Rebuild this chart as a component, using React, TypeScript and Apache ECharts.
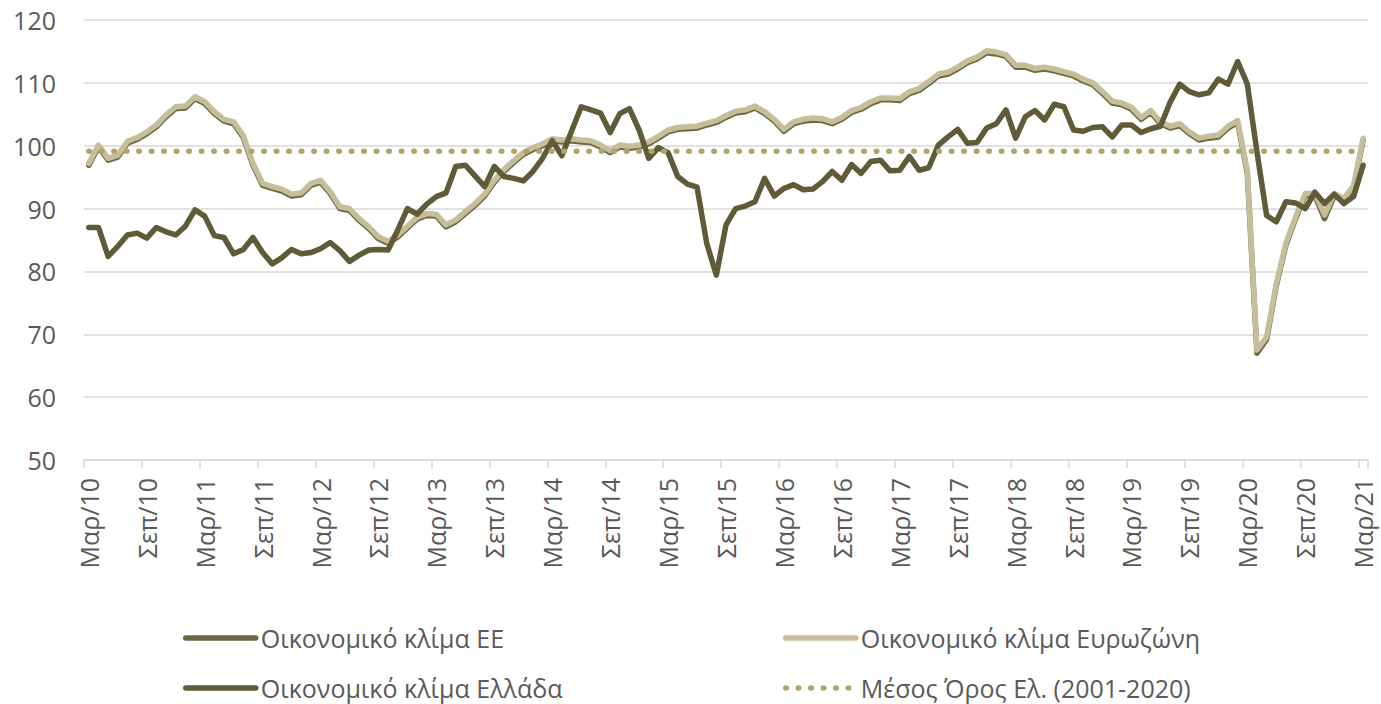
import React, { useEffect, useRef } from 'react';
import * as echarts from 'echarts';

const monthNames = ['Ιαν', 'Φεβ', 'Μαρ', 'Απρ', 'Μαϊ', 'Ιουν', 'Ιουλ', 'Αυγ', 'Σεπ', 'Οκτ', 'Νοε', 'Δεκ'];
const startMonthIndex = 2; // Μαρ
const startYear = 2010;
const monthCount = 133; // Μαρ/10 .. Μαρ/21
const categories: string[] = Array.from({ length: monthCount }, (_, i) => {
  const m = (startMonthIndex + i) % 12;
  const y = startYear + Math.floor((startMonthIndex + i) / 12);
  return `${monthNames[m]}/${String(y).slice(2)}`;
});

const euClimate = [
  96.9, 99.8, 97.7, 98.2, 100.4, 101.0, 101.9, 103.0, 104.6, 105.9, 106.0, 107.5,
  106.7, 105.1, 103.9, 103.5, 101.3, 96.9, 93.7, 93.2, 92.8, 92.0, 92.2, 93.7,
  94.2, 92.4, 90.0, 89.7, 88.1, 86.8, 85.2, 84.5, 85.5, 86.9, 88.3, 88.9,
  88.8, 87.1, 87.9, 89.2, 90.5, 92.0, 94.2, 95.9, 97.3, 98.6, 99.4, 100.0,
  100.8, 100.6, 100.8, 100.6, 100.5, 99.8, 98.9, 99.8, 99.6, 99.8, 100.3, 101.2,
  102.2, 102.6, 102.7, 102.8, 103.3, 103.7, 104.5, 105.2, 105.4, 106.0, 105.1, 103.9,
  102.3, 103.5, 103.9, 104.1, 104.0, 103.5, 104.2, 105.3, 105.8, 106.7, 107.3, 107.3,
  107.2, 108.3, 108.8, 109.9, 111.1, 111.4, 112.2, 113.2, 113.8, 114.8, 114.6, 114.2,
  112.5, 112.5, 112.0, 112.2, 111.9, 111.5, 111.1, 110.3, 109.7, 108.3, 106.8, 106.5,
  105.8, 104.2, 105.3, 103.5, 102.8, 103.2, 101.9, 100.9, 101.2, 101.4, 102.8, 103.7,
  95.6, 67.0, 69.2, 77.7, 84.2, 88.4, 92.1, 92.0, 88.4, 92.0, 91.3, 93.3,
  100.9,
];

const eurozoneClimate = [
  97.2, 100.1, 98.0, 98.5, 100.7, 101.3, 102.2, 103.3, 104.9, 106.2, 106.3, 107.8,
  107.0, 105.4, 104.2, 103.8, 101.6, 97.2, 94.0, 93.5, 93.1, 92.3, 92.5, 94.0,
  94.5, 92.7, 90.3, 90.0, 88.4, 87.1, 85.5, 84.8, 85.8, 87.2, 88.6, 89.2,
  89.1, 87.4, 88.2, 89.5, 90.8, 92.3, 94.5, 96.2, 97.6, 98.9, 99.7, 100.3,
  101.1, 100.9, 101.1, 100.9, 100.8, 100.1, 99.2, 100.1, 99.9, 100.1, 100.6, 101.5,
  102.5, 102.9, 103.0, 103.1, 103.6, 104.0, 104.8, 105.5, 105.7, 106.3, 105.4, 104.2,
  102.6, 103.8, 104.2, 104.4, 104.3, 103.8, 104.5, 105.6, 106.1, 107.0, 107.6, 107.6,
  107.5, 108.6, 109.1, 110.2, 111.4, 111.7, 112.5, 113.5, 114.1, 115.1, 114.9, 114.5,
  112.8, 112.8, 112.3, 112.5, 112.2, 111.8, 111.4, 110.6, 110.0, 108.6, 107.1, 106.8,
  106.1, 104.5, 105.6, 103.8, 103.1, 103.5, 102.2, 101.2, 101.5, 101.7, 103.1, 104.0,
  96.0, 67.5, 69.6, 78.0, 84.5, 88.7, 92.4, 92.4, 89.0, 92.4, 91.6, 93.6,
  101.2,
];

const greeceClimate = [
  87.0, 87.0, 82.4, 84.0, 85.8, 86.1, 85.3, 87.0, 86.3, 85.8, 87.2, 89.8,
  88.8, 85.7, 85.4, 82.8, 83.5, 85.4, 83.0, 81.2, 82.2, 83.5, 82.8, 83.0,
  83.6, 84.6, 83.3, 81.6, 82.6, 83.4, 83.5, 83.4, 86.6, 90.0, 89.1, 90.7,
  91.9, 92.5, 96.7, 96.9, 95.2, 93.5, 96.7, 95.1, 94.8, 94.4, 95.9, 98.0,
  100.8, 98.4, 102.3, 106.2, 105.7, 105.2, 102.1, 105.1, 105.9, 102.5, 98.0, 99.7,
  98.9, 95.1, 93.9, 93.4, 84.5, 79.4, 87.4, 90.0, 90.4, 91.1, 94.8, 92.0,
  93.2, 93.8, 93.0, 93.1, 94.3, 95.9, 94.5, 97.0, 95.6, 97.5, 97.7, 96.0,
  96.1, 98.3, 96.1, 96.5, 100.1, 101.4, 102.6, 100.4, 100.5, 102.8, 103.5, 105.7,
  101.2, 104.6, 105.6, 104.1, 106.6, 106.2, 102.5, 102.3, 102.9, 103.0, 101.4, 103.3,
  103.3, 102.1, 102.7, 103.1, 106.9, 109.8, 108.6, 108.1, 108.4, 110.6, 109.8, 113.4,
  109.8, 99.0, 88.9, 87.9, 91.1, 90.9, 90.0, 92.6, 90.8, 92.3, 90.8, 91.9,
  96.9,
];

const greekMean = 99.1; // Μέσος Όρος Ελ. (2001-2020)

const yTicks = { min: 50, max: 120, interval: 10 };

const names = {
  eu: 'Οικονομικό κλίμα ΕΕ',
  ez: 'Οικονομικό κλίμα Ευρωζώνη',
  gr: 'Οικονομικό κλίμα Ελλάδα',
  mean: 'Μέσος Όρος Ελ. (2001-2020)',
};

const FONT = "'Open Sans', sans-serif";
const TEXT = '#595959';
const GRID = '#d9d9d9';
const C_EU = '#6e6842';
const C_EZ = '#c6be9a';
const C_GR = '#5f5a37';
const C_MEAN = '#b0a468';
const LINE_W = 5.5;
const DOTS = [0.5, 12];

function legendAt(name: string, left: number, top: number, color: string, dotted = false) {
  return {
    data: [name],
    left,
    top,
    orient: 'horizontal',
    padding: 0,
    itemWidth: 70,
    itemHeight: 14,
    itemGap: 5,
    selectedMode: false,
    itemStyle: { opacity: 0 },
    lineStyle: {
      color,
      width: LINE_W,
      type: dotted ? DOTS : 'solid',
      cap: 'round',
    },
    textStyle: { fontFamily: FONT, fontSize: 25, color: TEXT, lineHeight: 30 },
  };
}

export default function App() {
  const ref = useRef<HTMLDivElement>(null);
  useEffect(() => {
    if (!ref.current) return;
    const chart = echarts.init(ref.current, undefined, { renderer: 'svg' });
    const lineBase = { type: 'line', symbol: 'none', smooth: false };
    chart.setOption({
      animation: false,
      backgroundColor: '#ffffff',
      textStyle: { fontFamily: FONT },
      grid: { left: 84, right: 13, top: 20, bottom: 244, containLabel: false },
      legend: [
        legendAt(names.eu, 183, 623, C_EU),
        legendAt(names.ez, 783, 623, C_EZ),
        legendAt(names.gr, 183, 673, C_GR),
        legendAt(names.mean, 783, 673, C_MEAN, true),
      ],
      xAxis: {
        type: 'category',
        data: categories,
        boundaryGap: true,
        axisLine: { lineStyle: { color: GRID, width: 1.5 } },
        axisTick: { show: true, interval: 5, length: 8, lineStyle: { color: GRID, width: 1.5 } },
        axisLabel: {
          interval: 5,
          rotate: 90,
          margin: 18,
          fontFamily: FONT,
          fontSize: 25,
          color: TEXT,
        },
        splitLine: { show: false },
      },
      yAxis: {
        type: 'value',
        min: yTicks.min,
        max: yTicks.max,
        interval: yTicks.interval,
        axisLine: { show: false },
        axisTick: { show: false },
        axisLabel: { margin: 28, fontFamily: FONT, fontSize: 25, color: TEXT },
        splitLine: { lineStyle: { color: GRID, width: 1.5 } },
      },
      series: [
        {
          ...lineBase,
          name: names.eu,
          data: euClimate,
          color: C_EU,
          lineStyle: { color: C_EU, width: LINE_W, cap: 'round', join: 'round' },
          z: 2,
        },
        {
          ...lineBase,
          name: names.ez,
          data: eurozoneClimate,
          color: C_EZ,
          lineStyle: { color: C_EZ, width: LINE_W, cap: 'round', join: 'round' },
          z: 3,
        },
        {
          ...lineBase,
          name: names.gr,
          data: greeceClimate,
          color: C_GR,
          lineStyle: { color: C_GR, width: LINE_W, cap: 'round', join: 'round' },
          z: 4,
        },
        {
          ...lineBase,
          name: names.mean,
          data: categories.map(() => greekMean),
          color: C_MEAN,
          lineStyle: { color: C_MEAN, width: LINE_W, type: DOTS, cap: 'round' },
          z: 5,
        },
      ],
    });
    return () => chart.dispose();
  }, []);
  return (
    <div
      ref={ref}
      style={{ position: 'fixed', left: 0, top: 0, width: '1381px', height: '704px', background: '#fff' }}
    />
  );
}
